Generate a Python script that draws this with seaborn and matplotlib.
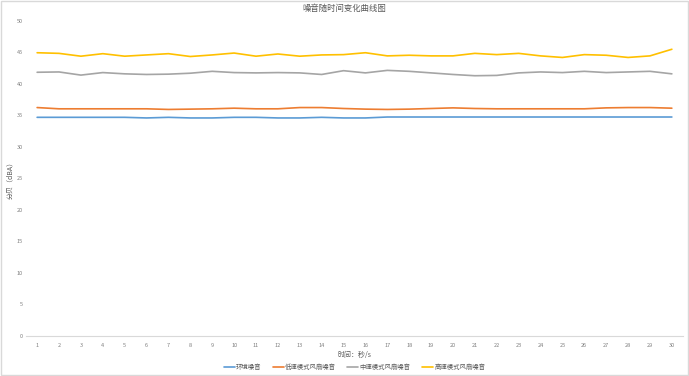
import numpy as np
import pandas as pd
import matplotlib
matplotlib.use("Agg")
import matplotlib.pyplot as plt
import seaborn as sns

times = list(range(1, 31))
env_noise = [34.7, 34.7, 34.7, 34.7, 34.7, 34.6, 34.7, 34.6, 34.6, 34.7,
             34.7, 34.6, 34.6, 34.7, 34.6, 34.6, 34.75, 34.75, 34.75, 34.75,
             34.75, 34.75, 34.75, 34.75, 34.75, 34.75, 34.75, 34.75, 34.75, 34.75]
low_fan = [36.25, 36.05, 36.05, 36.05, 36.05, 36.05, 35.95, 36.0, 36.05, 36.15,
           36.05, 36.05, 36.25, 36.25, 36.1, 36.0, 35.95, 36.0, 36.1, 36.2,
           36.1, 36.05, 36.05, 36.05, 36.05, 36.05, 36.2, 36.25, 36.25, 36.15]
mid_fan = [41.85, 41.9, 41.4, 41.8, 41.6, 41.5, 41.55, 41.7, 42.0, 41.8,
           41.75, 41.8, 41.75, 41.5, 42.1, 41.75, 42.15, 42.0, 41.75, 41.5,
           41.3, 41.35, 41.75, 41.9, 41.8, 42.0, 41.8, 41.9, 42.0, 41.6]
high_fan = [44.95, 44.85, 44.4, 44.8, 44.4, 44.6, 44.8, 44.35, 44.6, 44.9,
            44.4, 44.75, 44.4, 44.6, 44.65, 44.95, 44.45, 44.55, 44.45, 44.45,
            44.85, 44.65, 44.85, 44.45, 44.2, 44.65, 44.55, 44.2, 44.45, 45.5]
series_names = ["环境噪音", "低速模式风扇噪音", "中速模式风扇噪音", "高速模式风扇噪音"]
y_ticks = [0, 5, 10, 15, 20, 25, 30, 35, 40, 45, 50]

df = pd.DataFrame({
    "time": times * 4,
    "value": env_noise + low_fan + mid_fan + high_fan,
    "series": sum([[n] * len(times) for n in series_names], []),
})

sns.set_theme(style="white")
plt.rcParams["font.family"] = ["Noto Sans CJK SC", "DejaVu Sans"]

fig = plt.figure(figsize=(6.89, 3.76), dpi=100)
ax = fig.add_axes([0.038, 0.1064, 0.953, 0.838])
palette = ["#5B9BD5", "#ED7D31", "#A5A5A5", "#FFC000"]
sns.lineplot(data=df, x="time", y="value", hue="series", hue_order=series_names,
             palette=palette, linewidth=1.2, ax=ax, legend=True)

ax.set_xlim(0.5, 30.5)
ax.set_ylim(0, 50)
ax.set_xticks(times)
ax.set_yticks(y_ticks)
ax.tick_params(axis="x", labelsize=4, colors="#7F7F7F", length=0, pad=5)
ax.tick_params(axis="y", labelsize=4, colors="#7F7F7F", length=0, pad=2.5)
for s in ["top", "right", "left"]:
    ax.spines[s].set_visible(False)
ax.spines["bottom"].set_color("#D9D9D9")
ax.spines["bottom"].set_linewidth(0.8)

ax.set_xlabel("时间：秒/s", fontsize=5, color="#595959", labelpad=2)
ax.set_ylabel("分贝（dBA）", fontsize=5, color="#595959")
ax.yaxis.set_label_coords(-0.019, 0.5)
fig.text(0.5, 0.978, "噪音随时间变化曲线图", ha="center", va="center",
         fontsize=6, color="#595959")

leg = ax.legend(loc="center", bbox_to_anchor=(0.5, -0.098), ncol=4, frameon=False,
                fontsize=4.6, handlelength=1.7, columnspacing=1.8, handletextpad=0.2)
for t in leg.get_texts():
    t.set_color("#595959")

# light figure border
fig.patches.append(plt.Rectangle((0.001, 0.002), 0.997, 0.995, transform=fig.transFigure,
                                 fill=False, edgecolor="#D9D9D9", linewidth=1.0))

fig.savefig("out.png", dpi=100)
